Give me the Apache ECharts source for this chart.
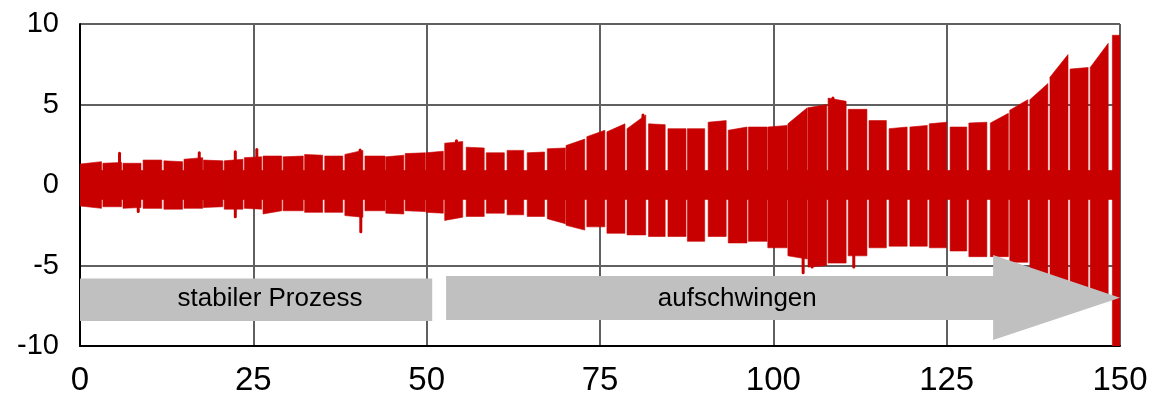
<!DOCTYPE html>
<html>
<head>
<meta charset="utf-8">
<script src="https://cdn.jsdelivr.net/npm/echarts@6.0.0/dist/echarts.min.js"></script>
<style>
    html, body { margin: 0; padding: 0; background: #fff; }
    #chart { width: 1153px; height: 402px; }
</style>
</head>
<body>
<div id="chart"></div>
<script>
// Schwingungsbursts (Zeit in s, Amplitude)
var burstStart   = [0.0, 3.3, 6.2, 9.1, 12.1, 15.0, 17.8, 20.8, 23.7, 26.4, 29.3, 32.4, 35.3, 38.2, 41.1, 44.1, 46.9, 49.9,
                    52.6, 55.7, 58.6, 61.6, 64.5, 67.4, 70.1, 73.1, 76.0, 78.9, 82.0, 84.8, 87.6, 90.6, 93.5, 96.4, 99.2,
                    102.1, 105.0, 107.9, 110.8, 113.8, 116.7, 119.7, 122.5, 125.5, 128.2, 131.3, 134.1, 137.0, 139.9, 142.8, 145.7, 148.9];
var burstEnd     = [3.1, 6.0, 8.8, 11.8, 14.8, 17.7, 20.6, 23.5, 26.2, 29.1, 32.2, 35.0, 37.9, 40.8, 44.0, 46.7, 49.8, 52.4,
                    55.2, 58.3, 61.2, 64.0, 67.0, 70.0, 72.8, 75.7, 78.6, 81.6, 84.4, 87.4, 90.1, 93.2, 96.2, 99.1, 102.0,
                    104.9, 107.7, 110.5, 113.5, 116.3, 119.3, 122.2, 125.0, 127.9, 130.8, 133.9, 136.7, 139.6, 142.5, 145.4, 148.3, 150.0];
var burstHiStart = [1.3, 1.35, 1.35, 1.55, 1.5, 1.6, 1.55, 1.5, 1.7, 1.8, 1.75, 1.9, 1.8, 1.9, 1.8, 1.75, 1.95, 2.0,
                    2.6, 2.35, 2.0, 2.15, 2.0, 2.25, 2.45, 3.0, 3.3, 3.5, 3.8, 3.5, 3.5, 3.9, 3.4, 3.6, 3.6,
                    3.8, 4.8, 5.4, 4.7, 4.0, 3.5, 3.6, 3.8, 3.6, 3.85, 3.85, 4.65, 5.3, 6.7, 7.2, 7.3, 9.3];
var burstHiEnd   = [1.45, 1.4, 1.35, 1.55, 1.45, 1.7, 1.5, 1.6, 1.75, 1.8, 1.8, 1.85, 1.8, 2.15, 1.8, 1.85, 2.0, 2.1,
                    2.7, 2.3, 2.0, 2.15, 2.05, 2.3, 2.85, 3.4, 3.8, 4.35, 3.75, 3.5, 3.5, 4.0, 3.6, 3.6, 3.7,
                    4.8, 5.0, 5.2, 4.7, 4.0, 3.6, 3.7, 3.9, 3.6, 3.9, 4.45, 5.3, 6.3, 8.1, 7.3, 8.8, 9.3];
var burstLoStart = [-1.3, -1.35, -1.45, -1.45, -1.5, -1.45, -1.4, -1.5, -1.45, -1.8, -1.6, -1.7, -1.7, -1.9, -1.6, -1.75, -1.6, -1.7,
                    -2.2, -1.95, -1.75, -1.85, -1.95, -2.1, -2.5, -2.6, -3.0, -3.1, -3.2, -3.2, -3.5, -3.2, -3.6, -3.5, -3.9,
                    -4.4, -5.1, -4.85, -4.4, -3.9, -3.8, -3.8, -3.9, -4.1, -4.45, -4.45, -4.8, -6.0, -6.5, -6.8, -7.0, -10.0];
var burstLoEnd   = [-1.45, -1.35, -1.4, -1.45, -1.5, -1.45, -1.35, -1.5, -1.5, -1.6, -1.6, -1.7, -1.7, -2.0, -1.6, -1.8, -1.65, -1.75,
                    -2.0, -1.95, -1.75, -1.85, -1.95, -2.4, -2.8, -2.6, -3.0, -3.1, -3.2, -3.2, -3.5, -3.2, -3.6, -3.5, -3.9,
                    -4.6, -5.0, -4.85, -4.4, -3.9, -3.8, -3.8, -3.9, -4.1, -4.45, -4.45, -4.8, -6.0, -6.8, -7.0, -7.2, -10.0];

// einzelne Ausreisser
var spikeX = [5.7, 8.4, 17.2, 22.4, 22.4, 25.5, 40.4, 40.5, 54.3, 81.2, 104.3, 105.6, 108.6, 111.6];
var spikeY = [1.97, -1.65, 2.0, 2.07, -1.97, 2.2, 2.17, -2.9, 2.75, 4.35, -5.45, -5.1, 5.4, -5.1];

// Grundschwingung zwischen den Bursts
var bandRange = [0, 150];
var bandLevel = [0.9, -0.9];

var RED = '#c80000';
var GREY = '#c0c0c0';

var bursts = [];
for (var i = 0; i < burstStart.length; i++) {
    bursts.push([burstStart[i], burstEnd[i], burstHiStart[i], burstHiEnd[i], burstLoStart[i], burstLoEnd[i]]);
}
bursts.unshift([bandRange[0], bandRange[1], bandLevel[0], bandLevel[0], bandLevel[1], bandLevel[1]]);

var spikes = [];
for (var j = 0; j < spikeX.length; j++) {
    spikes.push([spikeX[j], spikeY[j]]);
}

var dom = document.getElementById('chart');
var myChart = echarts.init(dom, null, { renderer: 'canvas' });

var option = {
    animation: false,
    backgroundColor: '#fff',
    grid: { left: 80, right: 33, top: 24, bottom: 56 },
    xAxis: {
        type: 'value',
        min: 0,
        max: 150,
        interval: 25,
        axisLine: { show: true, onZero: false, lineStyle: { color: '#000', width: 2 } },
        axisTick: { show: false },
        axisLabel: {
            margin: 18,
            color: '#000',
            fontSize: 33,
            fontFamily: '"Liberation Sans Narrow", "Liberation Sans", Arial, sans-serif'
        },
        splitLine: { show: true, lineStyle: { color: '#606060', width: 2 } }
    },
    yAxis: {
        type: 'value',
        min: -10,
        max: 10,
        interval: 5,
        axisLine: { show: true, lineStyle: { color: '#000', width: 2 } },
        axisTick: { show: false },
        axisLabel: {
            margin: 21,
            color: '#000',
            fontSize: 29,
            fontFamily: '"Liberation Sans", Arial, sans-serif'
        },
        splitLine: { show: true, lineStyle: { color: '#606060', width: 2 } }
    },
    series: [
        {
            type: 'custom',
            clip: true,
            z: 3,
            data: bursts,
            encode: { x: [0, 1], y: [2, 3, 4, 5] },
            renderItem: function (params, api) {
                var pts = [
                    api.coord([api.value(0), api.value(2)]),
                    api.coord([api.value(1), api.value(3)]),
                    api.coord([api.value(1), api.value(5)]),
                    api.coord([api.value(0), api.value(4)])
                ];
                return {
                    type: 'polygon',
                    shape: { points: pts },
                    style: { fill: RED, stroke: RED, lineWidth: 0.6, lineJoin: 'round' }
                };
            }
        },
        {
            type: 'custom',
            clip: true,
            z: 3,
            data: spikes,
            encode: { x: 0, y: 1 },
            renderItem: function (params, api) {
                var a = api.coord([api.value(0), 0]);
                var b = api.coord([api.value(0), api.value(1)]);
                return {
                    type: 'line',
                    shape: { x1: a[0], y1: a[1], x2: b[0], y2: b[1] },
                    style: { stroke: RED, lineWidth: 3, lineCap: 'round' }
                };
            }
        }
    ]
};

myChart.setOption(option, true);

// graue Pfeile als Beschriftung
function px(x, y) {
    return myChart.convertToPixel({ gridIndex: 0 }, [x, y]);
}

var box1 = [px(0, -5.8), px(50.8, -5.8), px(50.8, -8.45), px(0, -8.45)];
var arrow2 = [
    px(52.8, -5.65), px(131.7, -5.65), px(131.7, -4.35), px(150, -7.0),
    px(131.7, -9.63), px(131.7, -8.39), px(52.8, -8.39)
];
var t1 = px(27.4, -7.1);
var t2 = px(94.8, -7.05);

myChart.setOption({
    graphic: [
        { type: 'polygon', z: 100, shape: { points: box1 }, style: { fill: GREY } },
        { type: 'polygon', z: 100, shape: { points: arrow2 }, style: { fill: GREY } },
        {
            type: 'text', z: 101, x: t1[0], y: t1[1],
            style: { text: 'stabiler Prozess', fill: '#000', fontSize: 26, fontFamily: '"Liberation Sans", Arial, sans-serif', align: 'center', verticalAlign: 'middle' }
        },
        {
            type: 'text', z: 101, x: t2[0], y: t2[1],
            style: { text: 'aufschwingen', fill: '#000', fontSize: 26, fontFamily: '"Liberation Sans", Arial, sans-serif', align: 'center', verticalAlign: 'middle' }
        }
    ]
});
</script>
</body>
</html>
